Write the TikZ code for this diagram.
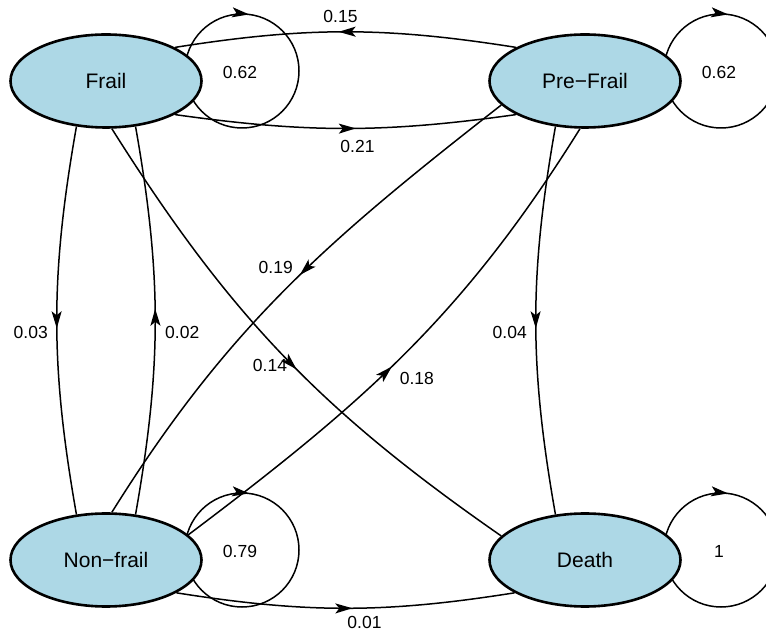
\documentclass[tikz,border=0pt]{standalone}
\usepackage{fontspec}
\setmainfont{Liberation Sans}
\usepackage{tikz}
\usetikzlibrary{shapes.geometric,positioning,arrows.meta,decorations.markings,backgrounds}
\definecolor{stagefill}{HTML}{ADD8E6}

\begin{document}
\begin{tikzpicture}[x=1pt,y=1pt,node distance=479pt,on grid,
    stage/.style={ellipse,draw,line width=2.6pt,fill=stagefill,
      minimum width=191pt,minimum height=93pt,inner sep=0pt,
      font=\fontsize{21}{25}\selectfont},
    prob/.style={font=\fontsize{17.5}{21}\selectfont,inner sep=0pt},
    trans/.style={line width=1.5pt,postaction={decorate},
      decoration={markings,mark=at position #1 with
        {\arrow{Stealth[length=17pt,width=10pt,inset=4pt]}}}},
    trans/.default=0.5]
    \useasboundingbox (0,0) rectangle (766,632);
    \node[stage] (frail)    at (106,551)        {Frail};
    \node[stage] (prefrail) [right=of frail]    {Pre−Frail};
    \node[stage] (nonfrail) [below=of frail]    {Non−frail};
    \node[stage] (death)    [right=of nonfrail] {Death};
    % self loops, behind the states
    \begin{scope}[on background layer]
      \foreach \s/\p in {frail/0.62,prefrail/0.62,nonfrail/0.79,death/1} {
        \draw[trans=.27] ([shift={(79,10)}]\s.center)
          arc[start angle=180,end angle=-180,radius=57];
        \node[prob] (loop-\s) at ([shift={(134,9)}]\s.center) {\p};
      }
    \end{scope}
    % top and bottom edges
    \draw[trans=.52] (prefrail.154) to[bend right=9]
      node[prob,xshift=-5pt,yshift=15pt] (p-pf) {0.15} (frail.26);
    \draw[trans=.53] (frail.-26) to[bend right=8]
      node[prob,xshift=12pt,yshift=-18pt] (p-fp) {0.21} (prefrail.-154);
    \draw[trans=.52] (nonfrail.-25) to[bend right=9]
      node[prob,xshift=19pt,yshift=-14pt] (p-nd) {0.01} (death.-155);
    % side edges
    \draw[trans=.52] (frail.237) to[bend right=10]
      node[prob,xshift=-26pt,yshift=-12pt] (p-fn) {0.03} (nonfrail.123);
    \draw[trans=.53] (nonfrail.57) to[bend right=10]
      node[prob,xshift=27pt,yshift=-12pt] (p-nf) {0.02} (frail.-57);
    \draw[trans=.52] (prefrail.237) to[bend right=10]
      node[prob,xshift=-26pt,yshift=-12pt] (p-pd) {0.04} (death.123);
    % crossing edges
    \draw[trans=.465] (prefrail.196) to[out=218,in=58]
      node[prob,pos=.45,xshift=-28pt,yshift=4pt] (p-pn) {0.19} (nonfrail.83);
    \draw[trans=.535] (frail.-83) to[bend right=11.5]
      node[prob,pos=.52,xshift=-20pt,yshift=-3pt] (p-fd) {0.14} (death.164);
    \draw[trans=.465] (nonfrail.17) to[out=37,in=238]
      node[prob,pos=.45,xshift=29pt,yshift=-8pt] (p-np) {0.18} (prefrail.264);
\end{tikzpicture}
\end{document}
